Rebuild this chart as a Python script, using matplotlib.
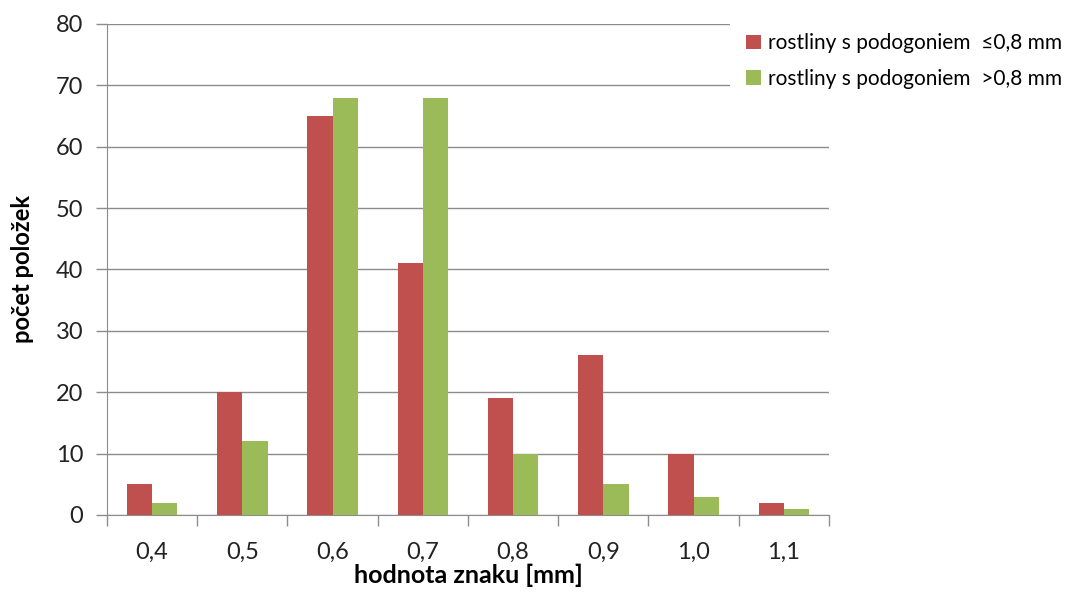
import matplotlib.pyplot as plt
import numpy as np

plt.rcParams['font.family'] = ['Lato', 'DejaVu Sans']

categories = ['0,4', '0,5', '0,6', '0,7', '0,8', '0,9', '1,0', '1,1']
small = [5, 20, 65, 41, 19, 26, 10, 2]
large = [2, 12, 68, 68, 10, 5, 3, 1]
labels = ['rostliny s podogoniem  \u22640,8 mm', 'rostliny s podogoniem  >0,8 mm']

red = '#C0504D'
green = '#9BBB59'
grid = '#8c8c8c'

fig = plt.figure(figsize=(10.86, 5.94), dpi=100)
ax = fig.add_axes([0.0985, 0.133, 0.6648, 0.8266])

pos = np.arange(len(categories))
width = 0.28
ax.bar(pos - width / 2, small, width, color=red, label=labels[0], zorder=3)
ax.bar(pos + width / 2, large, width, color=green, label=labels[1], zorder=3)

ax.set_xlim(-0.5, len(categories) - 0.5)
ax.set_ylim(0, 80)
ax.set_yticks(np.arange(0, 81, 10))
ax.yaxis.grid(True, color=grid, linewidth=1)
ax.set_axisbelow(True)

ax.set_xticks(pos)
ax.set_xticklabels(categories)
ax.set_xticks(np.arange(-0.5, len(categories)), minor=True)
ax.tick_params(axis='x', which='major', length=0, pad=19, labelsize=17, colors='#222222')
ax.tick_params(axis='x', which='minor', length=8, width=1, color=grid)
ax.tick_params(axis='y', length=8, width=1, color=grid, labelsize=17, labelcolor='#222222', pad=9)

for side in ['top', 'right']:
    ax.spines[side].set_visible(False)
for side in ['left', 'bottom']:
    ax.spines[side].set_color(grid)

ax.set_ylabel('počet položek', fontsize=17, fontweight='bold', labelpad=16)
ax.set_xlabel('hodnota znaku [mm]', fontsize=18, fontweight='bold', labelpad=1)

leg = fig.legend(loc='upper left', bbox_to_anchor=(0.672, 0.972), frameon=True,
                 fontsize=15, handlelength=0.7, handleheight=0.7, handletextpad=0.35,
                 labelspacing=0.75, borderpad=0.8, borderaxespad=0)
leg.get_frame().set_facecolor('white')
leg.get_frame().set_edgecolor('none')
leg.get_frame().set_alpha(1)

fig.savefig('out.png', dpi=100)
